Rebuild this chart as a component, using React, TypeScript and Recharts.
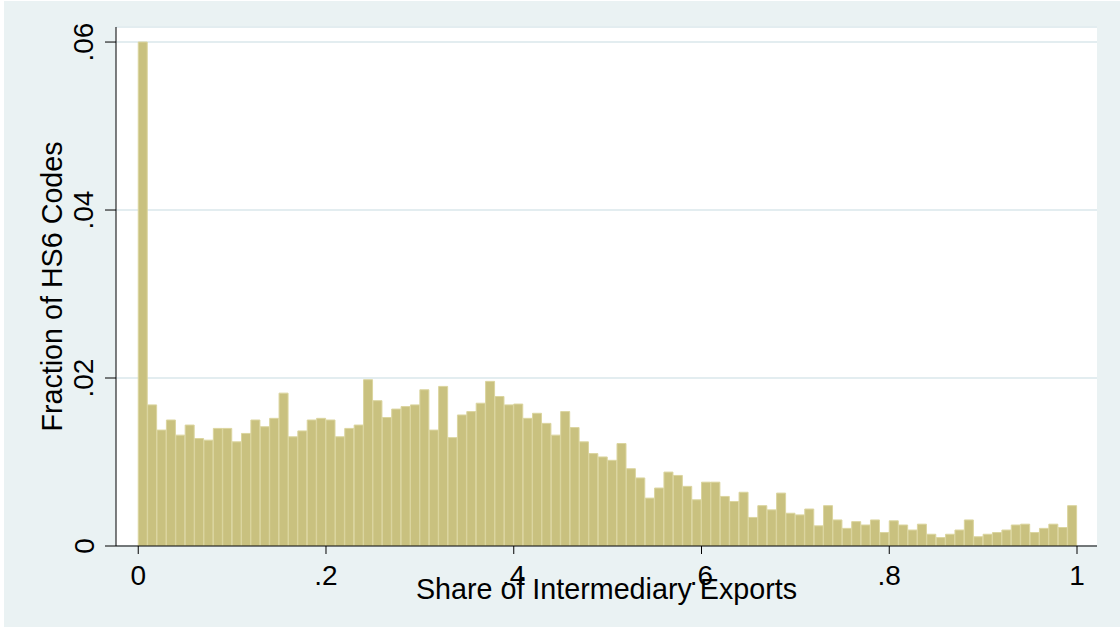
import React from "react";
import { BarChart, Bar, XAxis, YAxis, CartesianGrid } from "recharts";

// bin midpoints (width .01, from 0 to 1)
const binMids: number[] = [
  0.005, 0.015, 0.025, 0.035, 0.045, 0.055, 0.065, 0.075, 0.085, 0.095,
  0.105, 0.115, 0.125, 0.135, 0.145, 0.155, 0.165, 0.175, 0.185, 0.195,
  0.205, 0.215, 0.225, 0.235, 0.245, 0.255, 0.265, 0.275, 0.285, 0.295,
  0.305, 0.315, 0.325, 0.335, 0.345, 0.355, 0.365, 0.375, 0.385, 0.395,
  0.405, 0.415, 0.425, 0.435, 0.445, 0.455, 0.465, 0.475, 0.485, 0.495,
  0.505, 0.515, 0.525, 0.535, 0.545, 0.555, 0.565, 0.575, 0.585, 0.595,
  0.605, 0.615, 0.625, 0.635, 0.645, 0.655, 0.665, 0.675, 0.685, 0.695,
  0.705, 0.715, 0.725, 0.735, 0.745, 0.755, 0.765, 0.775, 0.785, 0.795,
  0.805, 0.815, 0.825, 0.835, 0.845, 0.855, 0.865, 0.875, 0.885, 0.895,
  0.905, 0.915, 0.925, 0.935, 0.945, 0.955, 0.965, 0.975, 0.985, 0.995,
];

// fraction of HS6 codes in each bin
const fractions: number[] = [
  0.0600, 0.0168, 0.0138, 0.0150, 0.0132, 0.0144, 0.0128, 0.0126, 0.0140, 0.0140,
  0.0124, 0.0134, 0.0150, 0.0142, 0.0152, 0.0182, 0.0130, 0.0137, 0.0150, 0.0152,
  0.0150, 0.0130, 0.0140, 0.0144, 0.0198, 0.0173, 0.0153, 0.0163, 0.0166, 0.0168,
  0.0186, 0.0138, 0.0190, 0.0129, 0.0156, 0.0160, 0.0170, 0.0196, 0.0178, 0.0168,
  0.0169, 0.0152, 0.0158, 0.0146, 0.0132, 0.0160, 0.0141, 0.0124, 0.0110, 0.0106,
  0.0102, 0.0122, 0.0092, 0.0081, 0.0057, 0.0069, 0.0088, 0.0084, 0.0071, 0.0055,
  0.0076, 0.0076, 0.0059, 0.0053, 0.0064, 0.0034, 0.0048, 0.0043, 0.0063, 0.0039,
  0.0037, 0.0044, 0.0024, 0.0048, 0.0031, 0.0021, 0.0029, 0.0025, 0.0031, 0.0016,
  0.0030, 0.0025, 0.0019, 0.0026, 0.0014, 0.0010, 0.0014, 0.0019, 0.0031, 0.0011,
  0.0014, 0.0016, 0.0019, 0.0025, 0.0026, 0.0016, 0.0021, 0.0026, 0.0022, 0.0048,
];

const xTicks: number[] = [0, 0.2, 0.4, 0.6, 0.8, 1];
const yTicks: number[] = [0, 0.02, 0.04, 0.06];
const xTitle = "Share of Intermediary Exports";
const yTitle = "Fraction of HS6 Codes";

const data = binMids.map((x, i) => ({ x, v: fractions[i] }));

const fmt = (v: number) => {
  const s = String(Number(v.toFixed(4)));
  return s.startsWith("0.") ? s.slice(1) : s;
};

const FONT = "'Liberation Sans', Arial, Helvetica, sans-serif";

const XTick = (props: any) => {
  const { x, payload } = props;
  return (
    <text x={x} y={584} textAnchor="middle" fontFamily={FONT} fontSize={28} fill="#000">
      {fmt(payload.value)}
    </text>
  );
};

const YTick = (props: any) => {
  const { y, payload } = props;
  const bx = 89.5;
  return (
    <text
      x={bx}
      y={y}
      transform={`rotate(-90, ${bx}, ${y})`}
      textAnchor="middle"
      fontFamily={FONT}
      fontSize={28}
      fill="#000"
    >
      {fmt(payload.value)}
    </text>
  );
};

export default function App() {
  return (
    <div style={{ position: "absolute", left: 0, top: 0, width: 1120, height: 628, background: "#ffffff" }}>
      <div style={{ position: "absolute", left: 4, top: 1, width: 1116, height: 626, background: "#EAF2F3" }}>
        <BarChart
          width={1116}
          height={626}
          data={data}
          margin={{ top: 26, right: 23, bottom: 0, left: 0 }}
          barCategoryGap={0}
          barGap={0}
        >
          <CartesianGrid vertical={false} fill="#ffffff" stroke="#E3EDF0" strokeWidth={2} />
          <XAxis
            type="number"
            dataKey="x"
            domain={[-0.0237, 1.0213]}
            ticks={xTicks}
            allowDataOverflow
            height={81}
            tickSize={8}
            tickLine={{ stroke: "#000", strokeWidth: 1 }}
            axisLine={{ stroke: "#000", strokeWidth: 1 }}
            tick={<XTick />}
            interval={0}
            label={{
              content: () => (
                <text x={602.5} y={597.5} textAnchor="middle" fontFamily={FONT} fontSize={28.7} fill="#000">
                  {xTitle}
                </text>
              ),
            }}
          />
          <YAxis
            type="number"
            domain={[0, 0.06179]}
            ticks={yTicks}
            allowDataOverflow
            width={112}
            tickSize={11}
            tickLine={{ stroke: "#000", strokeWidth: 1 }}
            axisLine={{ stroke: "#000", strokeWidth: 1 }}
            tick={<YTick />}
            interval={0}
            label={{
              content: () => (
                <text
                  x={58}
                  y={285.5}
                  transform="rotate(-90, 58, 285.5)"
                  textAnchor="middle"
                  fontFamily={FONT}
                  fontSize={28.7}
                  fill="#000"
                >
                  {yTitle}
                </text>
              ),
            }}
          />
          <Bar dataKey="v" fill="#C9C17F" stroke="#DBD59F" strokeWidth={1} isAnimationActive={false} />
        </BarChart>
      </div>
    </div>
  );
}
